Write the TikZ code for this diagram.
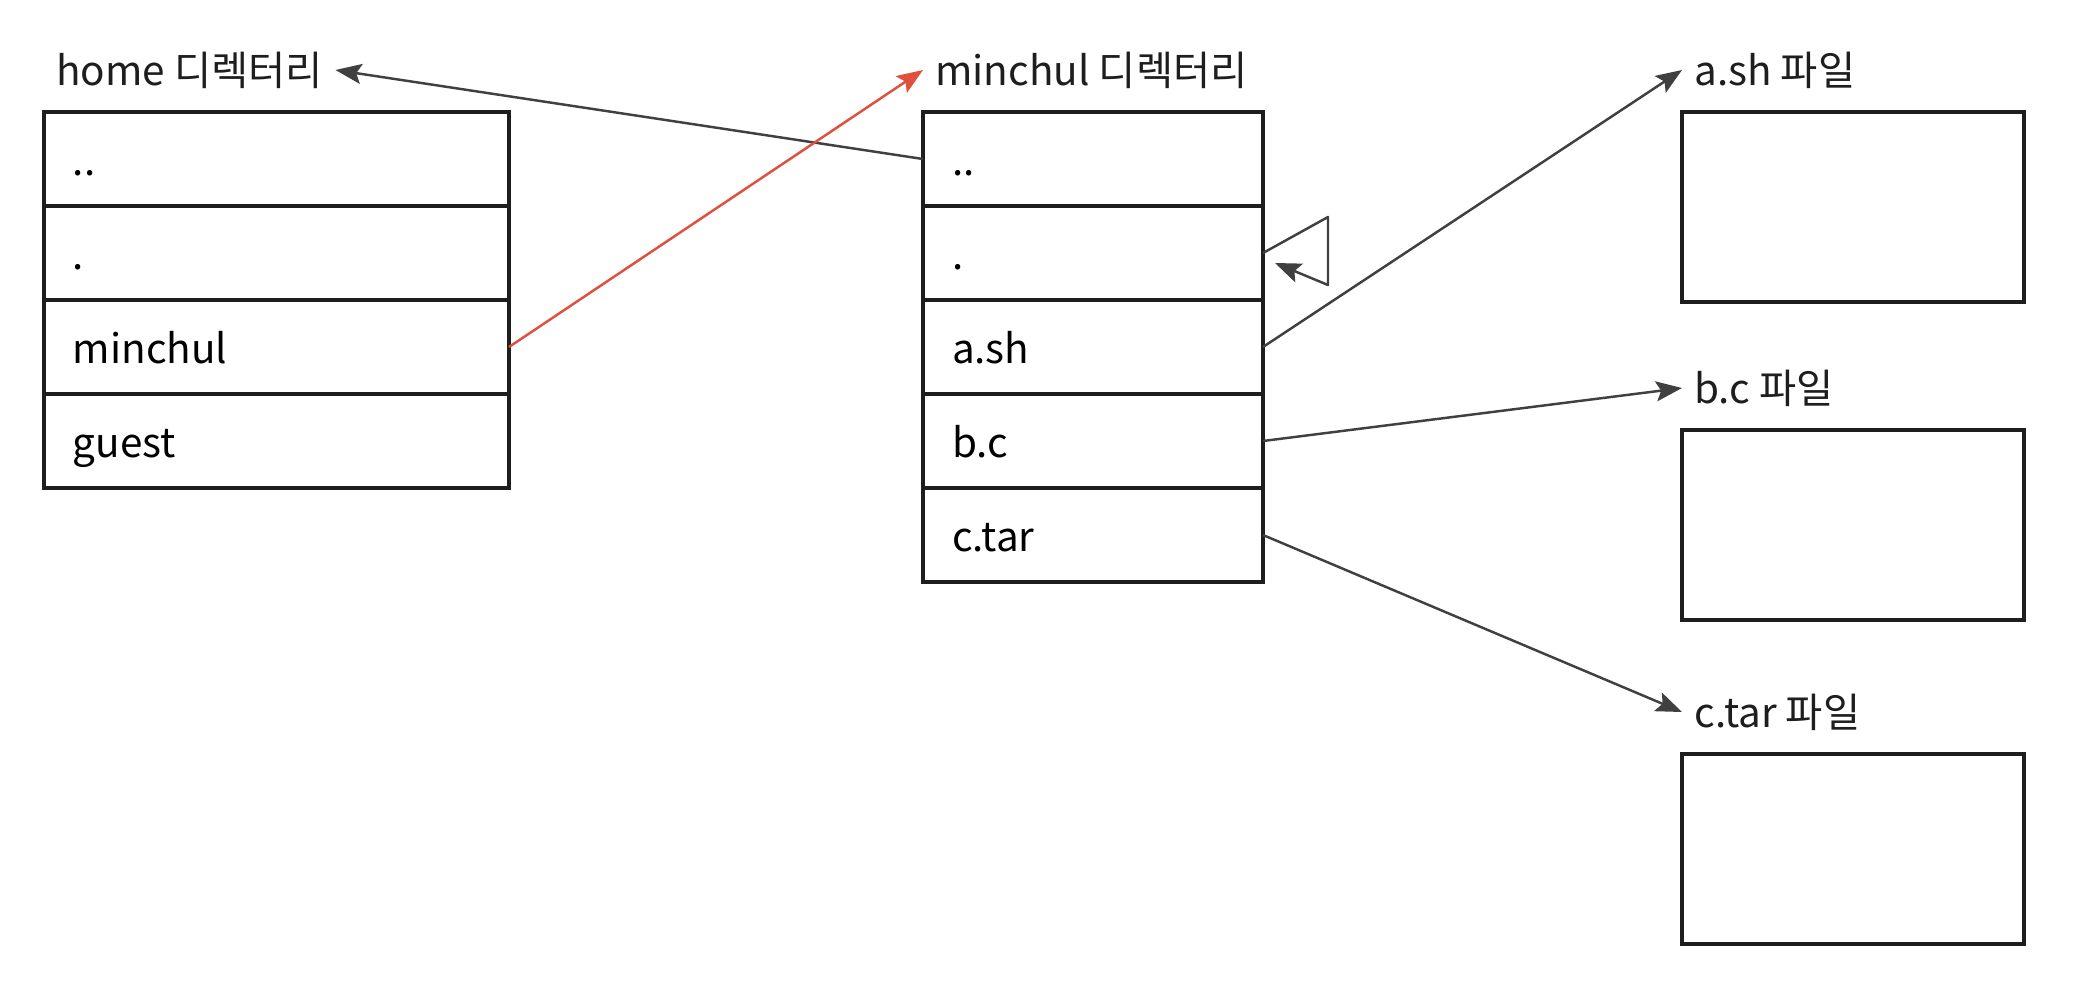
\documentclass[tikz,border=0pt]{standalone}
\usepackage{fontspec}
\setmainfont{Noto Sans CJK KR}
\usetikzlibrary{arrows.meta,positioning}
\definecolor{ink}{HTML}{1E1E1E}
\definecolor{linkred}{HTML}{E0503C}

\begin{document}
\begin{tikzpicture}[font=\fontsize{11.5}{13}\selectfont,
	entry/.style={draw=ink, line width=.9pt, minimum height=.94cm, inner xsep=.29cm, outer sep=0pt,
		text height=1.7ex, text depth=0ex, align=left, anchor=north west},
	hentry/.style={entry, text width=4.07cm},
	mentry/.style={entry, text width=2.82cm},
	filebox/.style={draw=ink, line width=.9pt, minimum width=3.42cm, minimum height=1.9cm, outer sep=0pt, anchor=north west},
	lbl/.style={anchor=west, text=ink},
	link/.style={draw=ink!85, line width=.7pt, line join=round, -{Stealth[length=2.6mm,width=2mm,inset=.5mm]}}]
		\path[use as bounding box, fill=white] (0,0) rectangle (20.74,-9.84);
		
		% home
		\node[hentry] (h1) at (.44,-1.12) {..};
		\node[hentry, below=0pt of h1] (h2) {.};
		\node[hentry, below=0pt of h2] (h3) {minchul};
		\node[hentry, below=0pt of h3] (h4) {guest};
		\node[lbl] (hl) at ([yshift=.42cm]h1.north west) {home 디렉터리};
		
		% minchul
		\node[mentry] (m1) at (9.23,-1.12) {..};
		\node[mentry, below=0pt of m1] (m2) {.};
		\node[mentry, below=0pt of m2] (m3) {a.sh};
		\node[mentry, below=0pt of m3] (m4) {b.c};
		\node[mentry, below=0pt of m4] (m5) {c.tar};
		\node[lbl] (ml) at ([yshift=.42cm]m1.north west) {minchul 디렉터리};
		
		% files
		\node[filebox] (fa) at (16.82,-1.12) {}; \node[lbl] (fal) at ([yshift=.42cm]fa.north west) {a.sh 파일};
		\node[filebox] (fb) at (16.82,-4.30) {}; \node[lbl] (fbl) at ([yshift=.42cm]fb.north west) {b.c 파일};
		\node[filebox] (fc) at (16.82,-7.54) {}; \node[lbl] (fcl) at ([yshift=.42cm]fc.north west) {c.tar 파일};
		
		\draw[link] (m1.west) -- (hl.east);
		\draw[link, draw=linkred] (h3.east) -- (ml.west);
		\draw[link] (m2.east) -- ++(.65,.36) -- ++(0,-.68) -- ([shift={(.12,-.1)}]m2.east);
		\draw[link] (m3.east) -- (fal.west);
		\draw[link] (m4.east) -- (fbl.west);
		\draw[link] (m5.east) -- (fcl.west);
\end{tikzpicture}
\end{document}
